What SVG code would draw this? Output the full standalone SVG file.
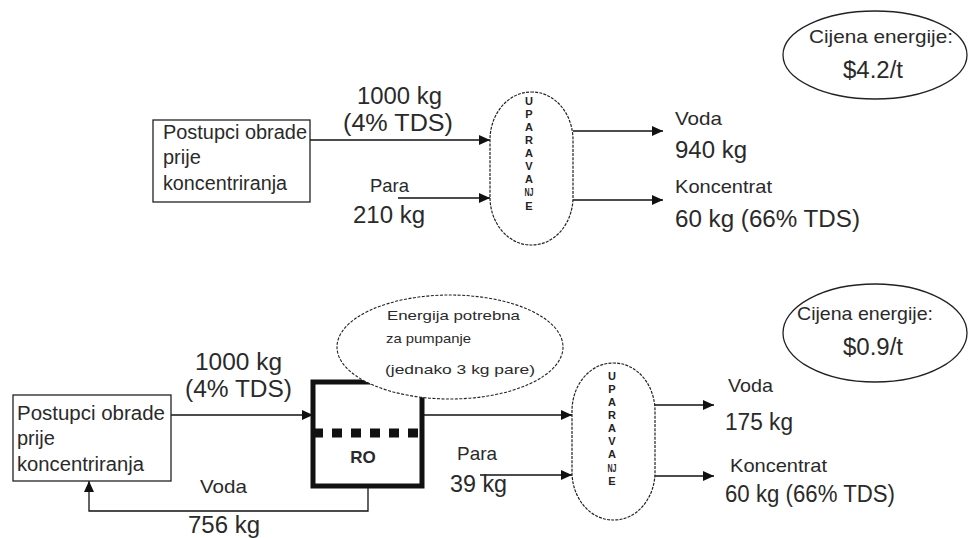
<svg xmlns="http://www.w3.org/2000/svg" width="969" height="538" viewBox="0 0 969 538">
<defs>
<marker id="arr" viewBox="0 0 11 10" refX="11" refY="5" markerWidth="11" markerHeight="10" markerUnits="userSpaceOnUse" orient="auto">
<path d="M0,0 L11,5 L0,10 z" fill="#111"/>
</marker>
<style>
text{font-family:"Liberation Sans",Arial,sans-serif;fill:#2a2a2a}
.box{fill:#fff;stroke:#222;stroke-width:1.3}
.evap{fill:#fff;stroke:#222;stroke-width:1.2;stroke-dasharray:3 1.2}
.cost{fill:#fff;stroke:#222;stroke-width:1.3}
.line{fill:none;stroke:#111;stroke-width:1.3}
.arrow{fill:none;stroke:#111;stroke-width:1.3;marker-end:url(#arr)}
.bt{font-size:20px}
.w{font-size:19px}
.n{font-size:23px}
.v{font-size:11px;font-weight:bold;text-anchor:middle;fill:#222}
.s{font-size:13px}
</style>
</defs>
<rect width="969" height="538" fill="#fff"/>

<!-- connectors -->
<g id="connectors">
<line class="arrow" x1="310" y1="140" x2="490" y2="140"/>
<line class="arrow" x1="398" y1="198" x2="490" y2="198"/>
<line class="arrow" x1="573" y1="131" x2="663" y2="131"/>
<line class="arrow" x1="573" y1="200" x2="663" y2="200"/>
<line class="arrow" x1="171" y1="415" x2="313" y2="415"/>
<line class="arrow" x1="422" y1="415" x2="572" y2="415"/>
<line class="arrow" x1="480" y1="475" x2="572" y2="475"/>
<line class="arrow" x1="655" y1="405" x2="714" y2="405"/>
<line class="arrow" x1="655" y1="476" x2="714" y2="476"/>
<polyline class="arrow" points="368,487 368,511 89,511 89,481"/>
</g>

<!-- top section -->
<g id="node-pre-top">
<rect class="box" x="153" y="120" width="157" height="82"/>
<text class="bt" x="163" y="139" textLength="144" lengthAdjust="spacingAndGlyphs">Postupci obrade</text>
<text class="bt" x="163" y="164">prije</text>
<text class="bt" x="163" y="190" textLength="124" lengthAdjust="spacingAndGlyphs">koncentriranja</text>
</g>
<g id="node-evap-top">
<rect class="evap" x="490" y="92" width="83" height="153" rx="41" ry="48"/>
<text class="v" x="529" y="105">U</text>
<text class="v" x="529" y="118">P</text>
<text class="v" x="529" y="131">A</text>
<text class="v" x="529" y="144">R</text>
<text class="v" x="529" y="157">A</text>
<text class="v" x="529" y="170">V</text>
<text class="v" x="529" y="183">A</text>
<text class="v" x="529" y="196" textLength="9" lengthAdjust="spacingAndGlyphs">NJ</text>
<text class="v" x="529" y="210">E</text>
</g>
<g id="node-cost-top">
<ellipse class="cost" cx="875" cy="55" rx="92" ry="44"/>
<text class="w" x="809" y="43" textLength="144" lengthAdjust="spacingAndGlyphs">Cijena energije:</text>
<text class="n" x="843" y="78" textLength="60" lengthAdjust="spacingAndGlyphs">$4.2/t</text>
</g>
<g id="labels-top">
<text class="n" x="357" y="104" textLength="85" lengthAdjust="spacingAndGlyphs">1000 kg</text>
<text class="n" x="343" y="131" textLength="110" lengthAdjust="spacingAndGlyphs">(4% TDS)</text>
<text class="w" x="370" y="192" textLength="39" lengthAdjust="spacingAndGlyphs">Para</text>
<text class="n" x="353" y="223" textLength="72" lengthAdjust="spacingAndGlyphs">210 kg</text>
<text class="w" x="675" y="125" textLength="47" lengthAdjust="spacingAndGlyphs">Voda</text>
<text class="n" x="675" y="158" textLength="72" lengthAdjust="spacingAndGlyphs">940 kg</text>
<text class="w" x="675" y="193" textLength="97" lengthAdjust="spacingAndGlyphs">Koncentrat</text>
<text class="n" x="675" y="227" textLength="185" lengthAdjust="spacingAndGlyphs">60 kg (66% TDS)</text>
</g>

<!-- bottom section -->
<g id="node-pre-bottom">
<rect class="box" x="13" y="395" width="158" height="86"/>
<text class="bt" x="17" y="420" textLength="148" lengthAdjust="spacingAndGlyphs">Postupci obrade</text>
<text class="bt" x="17" y="445">prije</text>
<text class="bt" x="17" y="471" textLength="127" lengthAdjust="spacingAndGlyphs">koncentriranja</text>
</g>
<g id="node-ro">
<rect x="313" y="382" width="109" height="104" fill="#fff" stroke="#111" stroke-width="5"/>
<line x1="313" y1="433" x2="422" y2="433" stroke="#111" stroke-width="9" stroke-dasharray="10 9"/>
<text x="363" y="463" font-size="17" font-weight="bold" text-anchor="middle" fill="#222">RO</text>
</g>
<g id="node-energy">
<ellipse cx="450" cy="347" rx="113" ry="52" fill="#fff" stroke="#222" stroke-width="1.1" stroke-dasharray="3 1.5"/>
<text class="s" x="387" y="320" textLength="133" lengthAdjust="spacingAndGlyphs">Energija potrebna</text>
<text class="s" x="386" y="343" textLength="85" lengthAdjust="spacingAndGlyphs">za pumpanje</text>
<text class="s" x="385" y="374" textLength="150" lengthAdjust="spacingAndGlyphs">(jednako 3 kg pare)</text>
</g>
<g id="node-evap-bottom">
<rect class="evap" x="572" y="363" width="83" height="157" rx="41" ry="48"/>
<text class="v" x="612" y="380">U</text>
<text class="v" x="612" y="393">P</text>
<text class="v" x="612" y="406">A</text>
<text class="v" x="612" y="419">R</text>
<text class="v" x="612" y="432">A</text>
<text class="v" x="612" y="445">V</text>
<text class="v" x="612" y="458">A</text>
<text class="v" x="612" y="472" textLength="9" lengthAdjust="spacingAndGlyphs">NJ</text>
<text class="v" x="612" y="485">E</text>
</g>
<g id="node-cost-bottom">
<ellipse class="cost" cx="875" cy="333" rx="92" ry="49"/>
<text class="w" x="797" y="320" textLength="136" lengthAdjust="spacingAndGlyphs">Cijena energije:</text>
<text class="n" x="843" y="355" textLength="60" lengthAdjust="spacingAndGlyphs">$0.9/t</text>
</g>
<g id="labels-bottom">
<text class="n" x="195" y="370" textLength="87" lengthAdjust="spacingAndGlyphs">1000 kg</text>
<text class="n" x="185" y="397" textLength="107" lengthAdjust="spacingAndGlyphs">(4% TDS)</text>
<text class="w" x="200" y="493" textLength="47" lengthAdjust="spacingAndGlyphs">Voda</text>
<text class="n" x="188" y="533" textLength="72" lengthAdjust="spacingAndGlyphs">756 kg</text>
<text class="w" x="457" y="460" textLength="40" lengthAdjust="spacingAndGlyphs">Para</text>
<text class="n" x="450" y="492" textLength="57" lengthAdjust="spacingAndGlyphs">39 kg</text>
<text class="w" x="728" y="392" textLength="45" lengthAdjust="spacingAndGlyphs">Voda</text>
<text class="n" x="725" y="430" textLength="68" lengthAdjust="spacingAndGlyphs">175 kg</text>
<text class="w" x="730" y="472" textLength="97" lengthAdjust="spacingAndGlyphs">Koncentrat</text>
<text class="n" x="725" y="502" textLength="170" lengthAdjust="spacingAndGlyphs">60 kg (66% TDS)</text>
</g>
</svg>
